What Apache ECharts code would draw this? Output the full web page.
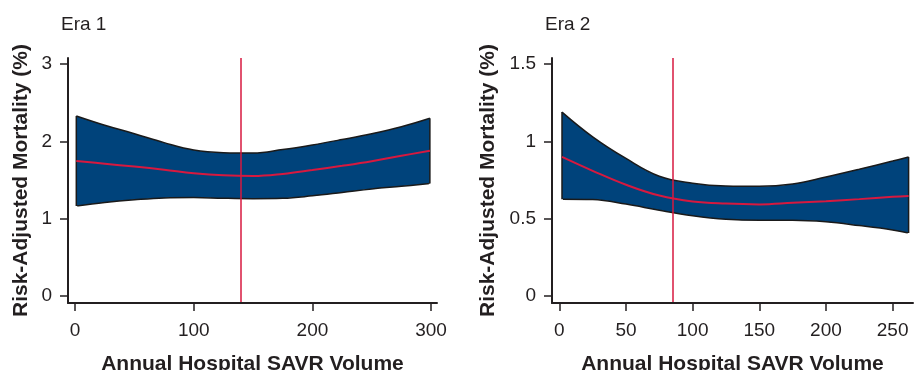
<!DOCTYPE html>
<html>
<head>
<meta charset="utf-8">
<script src="https://cdn.jsdelivr.net/npm/echarts@6/dist/echarts.min.js"></script>
<style>
  html, body { margin: 0; padding: 0; background: #fff; }
  #main { width: 914px; height: 370px; }
</style>
</head>
<body>
<div id="main"></div>
<script>
// Era 1
var era1X = [1, 25, 50, 75, 100, 125, 150, 175, 200, 225, 250, 275, 299];
var era1Upper = [2.33, 2.21, 2.10, 1.985, 1.89, 1.855, 1.85, 1.895, 1.955, 2.025, 2.10, 2.19, 2.30];
var era1Lower = [1.165, 1.21, 1.245, 1.27, 1.275, 1.265, 1.26, 1.265, 1.297, 1.34, 1.385, 1.42, 1.455];
var era1Mean = [1.746, 1.712, 1.675, 1.635, 1.59, 1.562, 1.553, 1.58, 1.63, 1.685, 1.745, 1.815, 1.88];
var era1Cut = 140;
var era1XTicks = [0, 100, 200, 300];
var era1YTicks = [0, 1, 2, 3];

// Era 2
var era2X = [2, 25, 50, 75, 100, 125, 150, 175, 200, 225, 250, 262];
var era2Upper = [1.19, 1.03, 0.89, 0.775, 0.73, 0.712, 0.71, 0.725, 0.77, 0.82, 0.873, 0.90];
var era2Lower = [0.627, 0.624, 0.595, 0.555, 0.52, 0.497, 0.49, 0.49, 0.48, 0.456, 0.428, 0.408];
var era2Mean = [0.90, 0.81, 0.72, 0.65, 0.612, 0.598, 0.593, 0.603, 0.614, 0.627, 0.642, 0.647];
var era2Cut = 85;
var era2XTicks = [0, 50, 100, 150, 200, 250];
var era2YTicks = [0, 0.5, 1, 1.5];

var FONT = "Liberation Sans, Arial, Helvetica, sans-serif";
var INK = "#231f20";
var NAVY = "#00437b";
var RED = "#d7193f";

function pairs(xs, ys) {
  return xs.map(function (x, i) { return [x, ys[i]]; });
}

function xAxisCfg(idx, min, max, ticks) {
  return {
    type: "value", gridIndex: idx, min: min, max: max, z: 10,
    name: "Annual Hospital SAVR Volume",
    nameLocation: "middle", nameGap: 51,
    nameTextStyle: { fontFamily: FONT, fontSize: 21, fontWeight: "bold", color: INK },
    axisLine: { show: true, onZero: false, lineStyle: { color: INK, width: 2 } },
    axisTick: { show: true, customValues: ticks, length: 8, lineStyle: { color: INK, width: 1.5 } },
    axisLabel: { customValues: ticks, margin: 18, fontFamily: FONT, fontSize: 19, color: INK },
    splitLine: { show: false }
  };
}

function yAxisCfg(idx, min, max, ticks, gap) {
  return {
    type: "value", gridIndex: idx, min: min, max: max, z: 10,
    name: "Risk-Adjusted Mortality (%)",
    nameLocation: "middle", nameGap: gap,
    nameTextStyle: { fontFamily: FONT, fontSize: 21, fontWeight: "bold", color: INK },
    axisLine: { show: true, onZero: false, lineStyle: { color: INK, width: 2 } },
    axisTick: { show: true, customValues: ticks, length: 8, lineStyle: { color: INK, width: 1.5 } },
    axisLabel: { customValues: ticks, margin: 16, fontFamily: FONT, fontSize: 19, color: INK },
    splitLine: { show: false }
  };
}

// band = navy area under the upper bound, masked by a white area under the lower bound
function bandSeries(idx, xs, upper, lower, mean, cut, yMin) {
  var edge = { color: "#1a1a1a", width: 1.5 };
  var last = xs.length - 1;
  var mask = { color: "#fff", width: 2 };
  return [
    {
      type: "line", xAxisIndex: idx, yAxisIndex: idx, z: 2,
      data: pairs(xs, upper), smooth: 0.4, symbol: "none",
      lineStyle: edge, areaStyle: { color: NAVY, opacity: 1, origin: "start" }
    },
    {
      type: "line", xAxisIndex: idx, yAxisIndex: idx, z: 3,
      data: pairs(xs, lower), smooth: 0.4, symbol: "none",
      lineStyle: edge, areaStyle: { color: "#fff", opacity: 1, origin: "start" }
    },
    // hide anti-alias seams under the band ends
    {
      type: "line", xAxisIndex: idx, yAxisIndex: idx, symbol: "none", z: 3,
      data: [[xs[0], yMin], [xs[0], lower[0]]], lineStyle: mask
    },
    {
      type: "line", xAxisIndex: idx, yAxisIndex: idx, symbol: "none", z: 3,
      data: [[xs[last], yMin], [xs[last], lower[last]]], lineStyle: mask
    },
    {
      type: "line", xAxisIndex: idx, yAxisIndex: idx, symbol: "none", z: 4,
      data: [[xs[0], lower[0]], [xs[0], upper[0]]], lineStyle: edge
    },
    {
      type: "line", xAxisIndex: idx, yAxisIndex: idx, symbol: "none", z: 4,
      data: [[xs[last], lower[last]], [xs[last], upper[last]]], lineStyle: edge
    },
    {
      type: "line", xAxisIndex: idx, yAxisIndex: idx, symbol: "none", z: 5,
      data: pairs(xs, mean), smooth: 0.4,
      lineStyle: { color: RED, width: 2 },
      markLine: {
        silent: true, symbol: "none", label: { show: false },
        lineStyle: { color: RED, width: 1.5, type: "solid" },
        data: [{ xAxis: cut }]
      }
    }
  ];
}

var chart = echarts.init(document.getElementById("main"));
chart.setOption({
  animation: false,
  backgroundColor: "#fff",
  title: [
    { text: "Era 1", left: 61, top: 15, padding: 0, textStyle: { fontFamily: FONT, fontSize: 19, fontWeight: "normal", color: INK } },
    { text: "Era 2", left: 545, top: 15, padding: 0, textStyle: { fontFamily: FONT, fontSize: 19, fontWeight: "normal", color: INK } }
  ],
  grid: [
    { left: 68, top: 58, width: 369, height: 245, containLabel: false, outerBoundsMode: "none" },
    { left: 552, top: 58, width: 361, height: 245, containLabel: false, outerBoundsMode: "none" }
  ],
  xAxis: [
    xAxisCfg(0, -6, 305, era1XTicks),
    xAxisCfg(1, -5.5, 265.3, era2XTicks)
  ],
  yAxis: [
    yAxisCfg(0, -0.09, 3.08, era1YTicks, 36),
    yAxisCfg(1, -0.045, 1.54, era2YTicks, 53)
  ],
  series: [].concat(
    bandSeries(0, era1X, era1Upper, era1Lower, era1Mean, era1Cut, -0.09),
    bandSeries(1, era2X, era2Upper, era2Lower, era2Mean, era2Cut, -0.045)
  )
});
</script>
</body>
</html>
